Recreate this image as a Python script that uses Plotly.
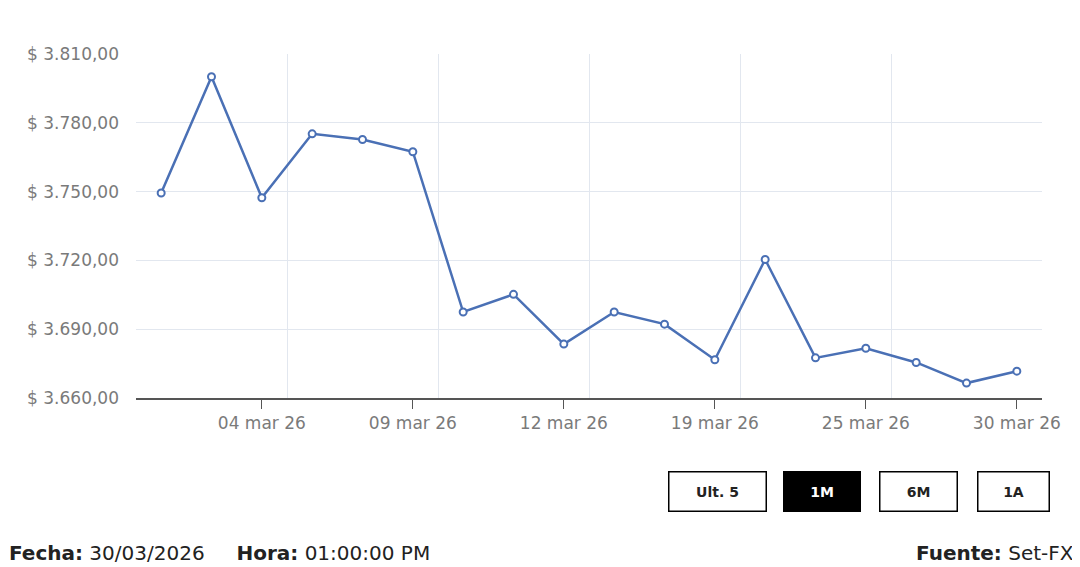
import plotly.graph_objects as go

# daily closing values, March 2026
fechas = ["2026-03-02", "2026-03-03", "2026-03-04", "2026-03-05", "2026-03-06",
          "2026-03-09", "2026-03-10", "2026-03-11", "2026-03-12", "2026-03-13",
          "2026-03-17", "2026-03-19", "2026-03-20", "2026-03-24", "2026-03-25",
          "2026-03-26", "2026-03-27", "2026-03-30"]
valores = [3749.4, 3800.1, 3747.3, 3775.2, 3772.7, 3767.4, 3697.5, 3705.2, 3683.5,
           3697.5, 3692.2, 3676.7, 3720.4, 3677.5, 3681.7, 3675.5, 3666.5, 3671.7]

y_ticks = [3660, 3690, 3720, 3750, 3780, 3810]
botones = ["Ult. 5", "1M", "6M", "1A"]
boton_activo = "1M"

meses = {"03": "mar"}

def etiqueta(f):
    a, m, d = f.split("-")
    return f"{d} {meses[m]} {a[2:]}"

def pesos(v):
    s = f"{v:,.2f}"
    s = s.replace(",", "X").replace(".", ",").replace("X", ".")
    return "$ " + s

xs = list(range(len(fechas)))
tick_idx = [i for i in xs if (i - 2) % 3 == 0]

FONT = "DejaVu Sans"
BLUE = "#4a70b5"
GRID = "#e2e7ef"

# page body has an 8px margin, so the figure is drawn 8px smaller
OFF = 8
W, H = 1080 - OFF, 567 - OFF
PL, PT, PW, PH = 136 - OFF, 54 - OFF, 906, 344

def px(x):  # window pixel -> paper x
    return (x - OFF - PL) / PW

def py(y):  # window pixel -> paper y
    return (PT + PH - (y - OFF)) / PH

fig = go.Figure()
fig.add_trace(go.Scatter(
    x=xs, y=valores, mode="lines+markers",
    line=dict(color=BLUE, width=2.5),
    marker=dict(symbol="circle", size=7, color="white", line=dict(color=BLUE, width=2)),
    hovertemplate="%{text}<br>%{y:.2f}<extra></extra>",
    text=[etiqueta(f) for f in fechas],
))

fig.update_xaxes(
    range=[-0.5, len(fechas) - 0.5],
    tickmode="array", tickvals=tick_idx, ticktext=[etiqueta(fechas[i]) for i in tick_idx],
    showgrid=False, zeroline=False,
    ticks="outside", ticklen=9, tickcolor="#555555", tickwidth=1,
    showline=True, linecolor="#555555", linewidth=1.5,
    tickfont=dict(family=FONT, size=17, color="#7a7a7a"),
    minor=dict(tick0=-0.5, dtick=3, showgrid=True, gridcolor=GRID, gridwidth=1, ticks=""),
)
fig.update_yaxes(
    range=[3660, 3810],
    tickmode="array", tickvals=y_ticks, ticktext=[pesos(v) for v in y_ticks],
    showgrid=True, gridcolor=GRID, gridwidth=1, zeroline=False,
    ticks="", ticklabelstandoff=16,
    tickfont=dict(family=FONT, size=17, color="#7a7a7a"),
)

# range buttons drawn as boxed annotations
pos_botones = [(668, 767), (783, 861), (879, 958), (977, 1050)]
for b, (x0, x1) in zip(botones, pos_botones):
    activo = b == boton_activo
    fig.add_annotation(
        xref="paper", yref="paper",
        x=px((x0 + x1) / 2), y=py(491.5), xanchor="center", yanchor="middle",
        text=f"<b>{b}</b>", showarrow=False,
        width=x1 - x0 - 3, height=38,
        bgcolor="black" if activo else "white",
        bordercolor="black", borderwidth=1.5, borderpad=0,
        font=dict(family=FONT, size=14, color="white" if activo else "#222222"),
    )

fig.add_annotation(
    xref="paper", yref="paper", x=px(7), y=py(553),
    xanchor="left", yanchor="middle", showarrow=False,
    text="<b>Fecha:</b> 30/03/2026&nbsp;&nbsp;&nbsp;&nbsp;&nbsp;<b>Hora:</b> 01:00:00 PM",
    font=dict(family=FONT, size=20, color="#222222"),
)
fig.add_annotation(
    xref="paper", yref="paper", x=px(1076), y=py(553),
    xanchor="right", yanchor="middle", showarrow=False,
    text="<b>Fuente:</b> Set-FX",
    font=dict(family=FONT, size=20, color="#222222"),
)

fig.update_layout(
    width=W, height=H,
    margin=dict(l=PL, r=W - PL - PW, t=PT, b=H - PT - PH),
    paper_bgcolor="white", plot_bgcolor="white",
    showlegend=False,
)

fig.write_html("out.html")
